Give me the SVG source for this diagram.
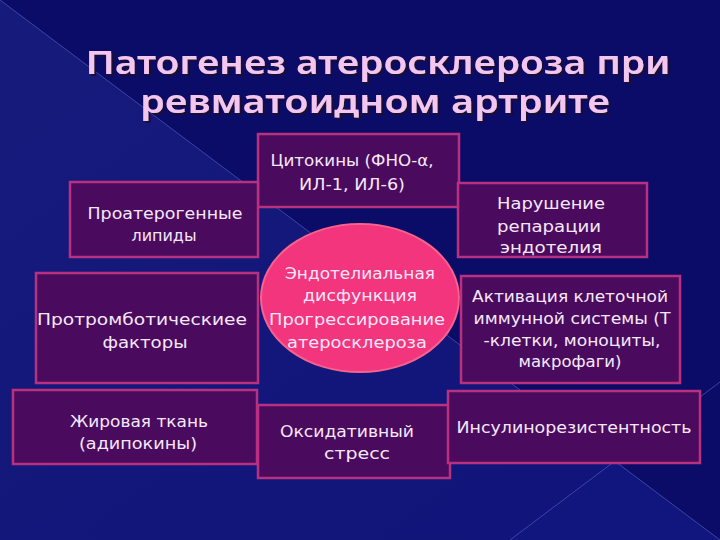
<svg xmlns="http://www.w3.org/2000/svg" width="720" height="540" viewBox="0 0 720 540">
  <defs>
    <linearGradient id="bgLow" x1="0" y1="0" x2="1" y2="1">
      <stop offset="0" stop-color="#161b7b"/>
      <stop offset="1" stop-color="#10137a"/>
    </linearGradient>
    <filter id="shd" x="-5%" y="-20%" width="110%" height="140%">
      <feDropShadow dx="2" dy="2" stdDeviation="0.6" flood-color="#1a0828" flood-opacity="0.9"/>
    </filter>
    <style>
      .box { fill: #4a0b5e; stroke: #b8307f; stroke-width: 2.5; }
      .t { font-family: "DejaVu Sans", "Noto Sans", sans-serif; font-size: 16px; fill: #f6e8fa; text-anchor: middle; }
      .title { font-family: "Noto Sans", "DejaVu Sans", sans-serif; font-size: 33px; font-weight: 600; fill: #f3c6ef; text-anchor: middle; }
      .deco { stroke: #4b57b5; stroke-width: 1; fill: none; opacity: 0.75; }
    </style>
  </defs>

  <!-- background -->
  <rect x="0" y="0" width="720" height="540" fill="#0b0b68"/>
  <polygon points="0,0 720,540 0,540" fill="url(#bgLow)"/>
  <polygon points="615,461 720,540 510,540" fill="#11157e"/>
  <line class="deco" x1="0" y1="0" x2="720" y2="540"/>
  <line class="deco" x1="720" y1="382" x2="510" y2="540"/>

  <!-- title -->
  <g id="title" filter="url(#shd)">
    <text class="title"><tspan x="378" y="74" textLength="585" lengthAdjust="spacingAndGlyphs">Патогенез атеросклероза при</tspan><tspan x="375" y="113" textLength="470" lengthAdjust="spacingAndGlyphs">ревматоидном артрите</tspan></text>
  </g>

  <g id="connectors"></g>

  <g id="cytokines">
    <rect class="box" x="258" y="134" width="201" height="73"/>
    <text class="t" x="352" y="166" textLength="163" lengthAdjust="spacingAndGlyphs">Цитокины (ФНО-α,</text>
    <text class="t" x="352" y="190" textLength="106" lengthAdjust="spacingAndGlyphs">ИЛ-1, ИЛ-6)</text>
  </g>

  <g id="lipids">
    <rect class="box" x="70" y="182" width="188" height="75"/>
    <text class="t" x="165" y="219" textLength="155" lengthAdjust="spacingAndGlyphs">Проатерогенные</text>
    <text class="t" x="164" y="241" textLength="65" lengthAdjust="spacingAndGlyphs">липиды</text>
  </g>

  <g id="repair">
    <rect class="box" x="458" y="183" width="189" height="74"/>
    <text class="t" x="551" y="209" textLength="108" lengthAdjust="spacingAndGlyphs">Нарушение</text>
    <text class="t" x="549" y="232" textLength="104" lengthAdjust="spacingAndGlyphs">репарации</text>
    <text class="t" x="551" y="253" textLength="102" lengthAdjust="spacingAndGlyphs">эндотелия</text>
  </g>

  <g id="prothrombotic">
    <rect class="box" x="36" y="273" width="222" height="110"/>
    <text class="t" x="142" y="325" textLength="210" lengthAdjust="spacingAndGlyphs">Протромботическиее</text>
    <text class="t" x="145" y="348" textLength="85" lengthAdjust="spacingAndGlyphs">факторы</text>
  </g>

  <g id="endothelial">
    <ellipse cx="360" cy="298" rx="99" ry="74" fill="#f2357c" stroke="#f7628f" stroke-width="2"/>
    <text class="t" x="360" y="279" textLength="150" lengthAdjust="spacingAndGlyphs">Эндотелиальная</text>
    <text class="t" x="360" y="301" textLength="114" lengthAdjust="spacingAndGlyphs">дисфункция</text>
    <text class="t" x="357" y="325" textLength="176" lengthAdjust="spacingAndGlyphs">Прогрессирование</text>
    <text class="t" x="357" y="348" textLength="140" lengthAdjust="spacingAndGlyphs">атеросклероза</text>
  </g>

  <g id="immune">
    <rect class="box" x="461" y="276" width="219" height="107"/>
    <text class="t" x="570" y="302" textLength="196" lengthAdjust="spacingAndGlyphs">Активация клеточной</text>
    <text class="t" x="572" y="324" textLength="197" lengthAdjust="spacingAndGlyphs">иммунной системы (Т</text>
    <text class="t" x="572" y="346" textLength="177" lengthAdjust="spacingAndGlyphs">-клетки, моноциты,</text>
    <text class="t" x="570" y="367" textLength="103" lengthAdjust="spacingAndGlyphs">макрофаги)</text>
  </g>

  <g id="adipose">
    <rect class="box" x="13" y="390" width="244" height="74"/>
    <text class="t" x="139" y="427" textLength="138" lengthAdjust="spacingAndGlyphs">Жировая ткань</text>
    <text class="t" x="138" y="449" textLength="118" lengthAdjust="spacingAndGlyphs">(адипокины)</text>
  </g>

  <g id="oxidative">
    <rect class="box" x="258" y="405" width="192" height="73"/>
    <text class="t" x="347" y="437" textLength="134" lengthAdjust="spacingAndGlyphs">Оксидативный</text>
    <text class="t" x="357" y="459" textLength="66" lengthAdjust="spacingAndGlyphs">стресс</text>
  </g>

  <g id="insulin">
    <rect class="box" x="448" y="391" width="252" height="72"/>
    <text class="t" x="574" y="433" textLength="235" lengthAdjust="spacingAndGlyphs">Инсулинорезистентность</text>
  </g>
</svg>
